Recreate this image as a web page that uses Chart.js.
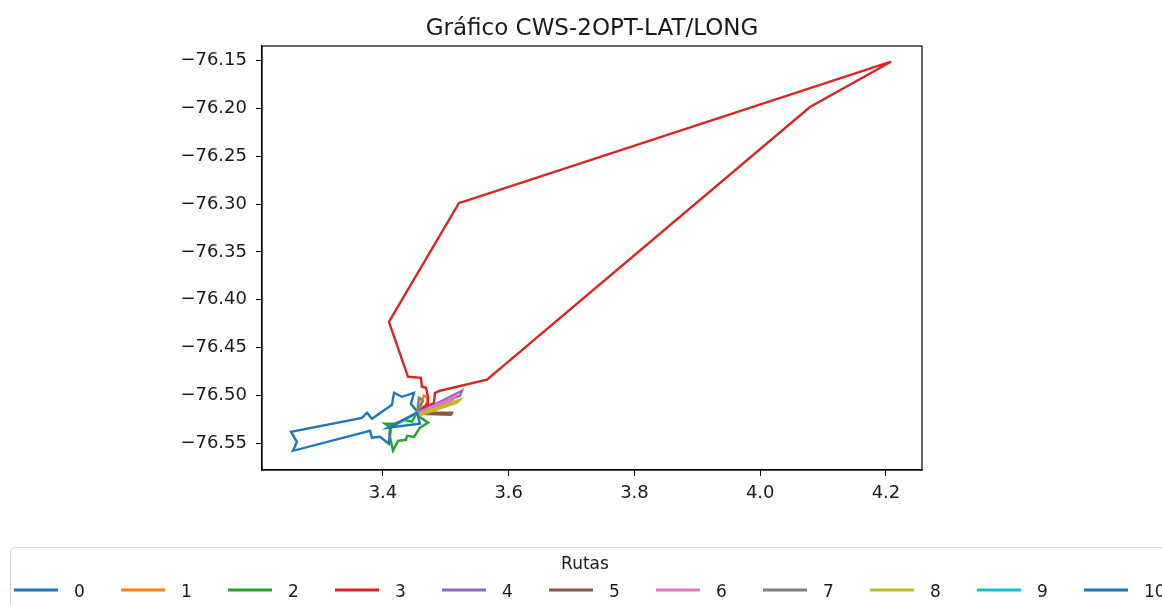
<!DOCTYPE html>
<html>
<head>
<meta charset="utf-8">
<script src="https://cdn.jsdelivr.net/npm/chart.js@4.4.0/dist/chart.umd.min.js"></script>
<style>
  html, body { margin: 0; padding: 0; background: #fff; }
  #wrap { width: 1162px; height: 605px; position: relative; }
</style>
</head>
<body>
<div id="wrap"><canvas id="myChart"></canvas></div>
<script>
const titulo = 'Gráfico CWS-2OPT-LAT/LONG';
const tituloLeyenda = 'Rutas';
const rutas = ['0', '1', '2', '3', '4', '5', '6', '7', '8', '9', '10'];
const colores = ['#1f77b4', '#ff7f0e', '#2ca02c', '#d62728', '#9467bd', '#8c564b',
                 '#e377c2', '#7f7f7f', '#bcbd22', '#17becf', '#1f77b4'];
const xTicks = [3.4, 3.6, 3.8, 4.0, 4.2];
const yTicks = [-76.55, -76.50, -76.45, -76.40, -76.35, -76.30, -76.25, -76.20, -76.15];

// lat (x) / long (y) de cada ruta
const lat0 = [3.4557, 3.4445, 3.4493, 3.4302, 3.4175, 3.4143, 3.3984, 3.3825, 3.3746, 3.3666, 3.2537, 3.2632, 3.2569, 3.3666, 3.3793, 3.3825, 3.3952, 3.4095, 3.4111, 3.4541];
const lon0 = [-76.5183, -76.5089, -76.4974, -76.5016, -76.4974, -76.5100, -76.5173, -76.5246, -76.5183, -76.5236, -76.5383, -76.5487, -76.5581, -76.5393, -76.5372, -76.5445, -76.5435, -76.5508, -76.5340, -76.5183];
const lat1 = [3.4541, 3.4652, 3.4716, 3.4684, 3.4541];
const lon1 = [-76.5183, -76.5005, -76.5026, -76.5100, -76.5183];
const lat2 = [3.4557, 3.4716, 3.4588, 3.4493, 3.4382, 3.4366, 3.4239, 3.4159, 3.4111, 3.4127, 3.4032, 3.4191, 3.4334, 3.4461, 3.4541];
const lon2 = [-76.5215, -76.5288, -76.5340, -76.5435, -76.5424, -76.5466, -76.5477, -76.5581, -76.5435, -76.5340, -76.5298, -76.5298, -76.5256, -76.5277, -76.5183];
const lat3 = [3.4541, 3.4716, 3.4716, 3.4684, 3.4620, 3.4604, 3.4398, 3.4095, 3.5209, 3.5320, 4.2080, 4.0791, 3.5654, 3.4907, 3.4827, 3.4811, 3.4541];
const lon3 = [-76.5183, -76.5089, -76.5016, -76.4922, -76.4911, -76.4817, -76.4807, -76.4232, -76.2988, -76.2967, -76.1510, -76.1984, -76.4838, -76.4953, -76.4974, -76.5079, -76.5183];
const lat4 = [3.4557, 3.5256, 3.5225, 3.4541];
const lon4 = [-76.5183, -76.4953, -76.5005, -76.5183];
const lat5 = [3.4588, 3.5097, 3.5081, 3.4588];
const lon5 = [-76.5183, -76.5183, -76.5204, -76.5194];
const lat6 = [3.4557, 3.5145, 3.5097, 3.4557];
const lon6 = [-76.5183, -76.5016, -76.5058, -76.5183];
const lat7 = [3.4541, 3.4573, 3.4636, 3.4557];
const lon7 = [-76.5183, -76.5026, -76.5058, -76.5173];
const lat8 = [3.4557, 3.5225, 3.5177, 3.4557];
const lon8 = [-76.5204, -76.5047, -76.5079, -76.5215];
const lat9 = [3.4541, 3.4111, 3.4525];
const lon9 = [-76.5183, -76.5340, -76.5194];
const lat10 = [3.4541, 3.4588, 3.4080, 3.4541];
const lon10 = [-76.5183, -76.5298, -76.5340, -76.5183];

const lats = [lat0, lat1, lat2, lat3, lat4, lat5, lat6, lat7, lat8, lat9, lat10];
const lons = [lon0, lon1, lon2, lon3, lon4, lon5, lon6, lon7, lon8, lon9, lon10];

const fuente = 'DejaVu Sans';
const texto = '#1a1a1a';

const datasets = rutas.map((r, i) => ({
    label: r,
    data: lats[i].map((x, j) => ({ x: x, y: lons[i][j] })),
    borderColor: colores[i],
    backgroundColor: colores[i],
    borderWidth: 2.4,
    showLine: true,
    pointRadius: 0,
    tension: 0,
    fill: false,
    order: -i
}));

// titulo, marco y leyenda al estilo matplotlib
const decor = {
    id: 'decor',
    afterDraw(chart) {
        const c = chart.ctx;
        const a = chart.chartArea;
        c.save();
        c.strokeStyle = '#000';
        c.lineWidth = 1.2;
        c.strokeRect(a.left, a.top, a.right - a.left, a.bottom - a.top);

        c.fillStyle = texto;
        c.font = '23px "' + fuente + '"';
        c.textAlign = 'center';
        c.textBaseline = 'alphabetic';
        c.fillText(titulo, (a.left + a.right) / 2, 35);

        // leyenda
        c.strokeStyle = '#d5d5d5';
        c.lineWidth = 1;
        c.beginPath();
        c.roundRect(10.5, 547.5, 1180, 80, 5);
        c.stroke();
        c.font = '17px "' + fuente + '"';
        c.fillText(tituloLeyenda, 585, 569);
        c.textAlign = 'left';
        rutas.forEach((r, i) => {
            const x0 = 14 + i * 107;
            c.strokeStyle = colores[i];
            c.lineWidth = 2.8;
            c.beginPath();
            c.moveTo(x0, 590);
            c.lineTo(x0 + 44, 590);
            c.stroke();
            c.fillStyle = texto;
            c.fillText(r, x0 + 60, 597);
        });
        c.restore();
    }
};

const ctx = document.getElementById('myChart').getContext('2d');
const myChart = new Chart(ctx, {
    type: 'scatter',
    data: { datasets: datasets },
    options: {
        responsive: true,
        maintainAspectRatio: false,
        animation: false,
        layout: { padding: { left: 0, top: 46, right: 240, bottom: 95 } },
        plugins: {
            legend: { display: false },
            title: { display: false },
            tooltip: { enabled: false }
        },
        scales: {
            x: {
                type: 'linear',
                min: 3.2076,
                max: 4.2573,
                afterBuildTicks: s => { s.ticks = xTicks.map(v => ({ value: v })); },
                afterFit: s => { s.height = 40; },
                ticks: {
                    callback: v => Number(v).toFixed(1),
                    font: { family: fuente, size: 18 },
                    color: texto,
                    padding: 7,
                    autoSkip: false,
                    maxRotation: 0
                },
                grid: { drawOnChartArea: false, drawTicks: true, tickLength: 6, color: '#000' },
                border: { display: true, color: '#000', width: 1.2 }
            },
            y: {
                type: 'linear',
                min: -76.5782,
                max: -76.1346,
                afterBuildTicks: s => { s.ticks = yTicks.map(v => ({ value: v })); },
                afterFit: s => { s.width = 262; },
                ticks: {
                    callback: v => '\u2212' + Math.abs(v).toFixed(2),
                    font: { family: fuente, size: 18 },
                    color: texto,
                    padding: 9,
                    autoSkip: false
                },
                grid: { drawOnChartArea: false, drawTicks: true, tickLength: 6, color: '#000' },
                border: { display: true, color: '#000', width: 1.2 }
            }
        }
    },
    plugins: [decor]
});
</script>
</body>
</html>
